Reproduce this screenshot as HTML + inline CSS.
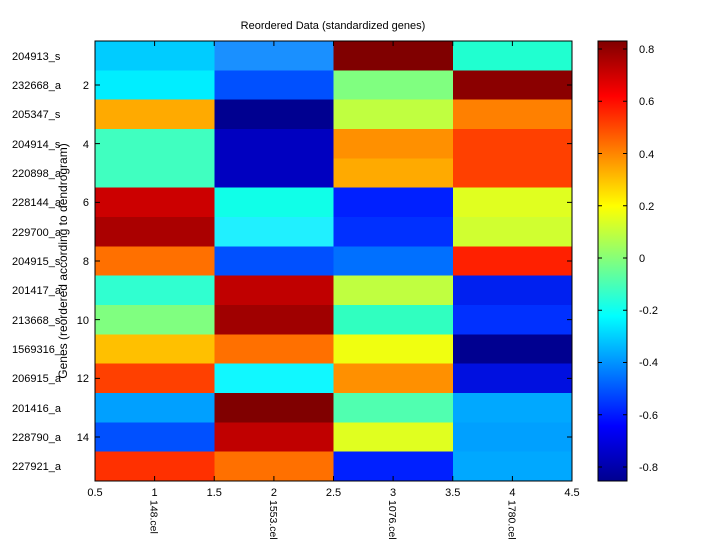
<!DOCTYPE html><html><head><style>body{margin:0;background:#fff}svg{display:block;font-family:"Liberation Sans",sans-serif}</style></head><body>
<svg width="720" height="540" viewBox="0 0 720 540">
<defs><linearGradient id="jet" x1="0" y1="1" x2="0" y2="0">
<stop offset="0" stop-color="#00008f"/><stop offset="0.125" stop-color="#0000ff"/><stop offset="0.375" stop-color="#00ffff"/><stop offset="0.625" stop-color="#ffff00"/><stop offset="0.875" stop-color="#ff0000"/><stop offset="1" stop-color="#800000"/></linearGradient></defs>
<rect width="720" height="540" fill="#fff"/>
<g shape-rendering="crispEdges">
<g transform="translate(0,41)"><rect x="95" width="120" height="30" fill="#00ccff"/><rect x="214.25" width="120" height="30" fill="#1a90ff"/><rect x="333.5" width="120" height="30" fill="#800000"/><rect x="452.75" width="119.25" height="30" fill="#20ffd0"/></g>
<g transform="translate(0,70.33)"><rect x="95" width="120" height="30" fill="#00eeff"/><rect x="214.25" width="120" height="30" fill="#0050ff"/><rect x="333.5" width="120" height="30" fill="#80ff80"/><rect x="452.75" width="119.25" height="30" fill="#8b0000"/></g>
<g transform="translate(0,99.67)"><rect x="95" width="120" height="30" fill="#ffaa00"/><rect x="214.25" width="120" height="30" fill="#000090"/><rect x="333.5" width="120" height="30" fill="#c0ff40"/><rect x="452.75" width="119.25" height="30" fill="#ff8000"/></g>
<g transform="translate(0,129)"><rect x="95" width="120" height="30" fill="#40ffc0"/><rect x="214.25" width="120" height="30" fill="#0000c0"/><rect x="333.5" width="120" height="30" fill="#ff9000"/><rect x="452.75" width="119.25" height="30" fill="#ff4000"/></g>
<g transform="translate(0,158.33)"><rect x="95" width="120" height="30" fill="#40ffc0"/><rect x="214.25" width="120" height="30" fill="#0000c0"/><rect x="333.5" width="120" height="30" fill="#ffaa00"/><rect x="452.75" width="119.25" height="30" fill="#ff4000"/></g>
<g transform="translate(0,187.67)"><rect x="95" width="120" height="30" fill="#cc0000"/><rect x="214.25" width="120" height="30" fill="#10ffe8"/><rect x="333.5" width="120" height="30" fill="#0020ff"/><rect x="452.75" width="119.25" height="30" fill="#e0ff20"/></g>
<g transform="translate(0,217)"><rect x="95" width="120" height="30" fill="#aa0000"/><rect x="214.25" width="120" height="30" fill="#20f0ff"/><rect x="333.5" width="120" height="30" fill="#0030ff"/><rect x="452.75" width="119.25" height="30" fill="#d0ff30"/></g>
<g transform="translate(0,246.33)"><rect x="95" width="120" height="30" fill="#ff7000"/><rect x="214.25" width="120" height="30" fill="#0050ff"/><rect x="333.5" width="120" height="30" fill="#0070ff"/><rect x="452.75" width="119.25" height="30" fill="#ff2000"/></g>
<g transform="translate(0,275.67)"><rect x="95" width="120" height="30" fill="#30ffd0"/><rect x="214.25" width="120" height="30" fill="#c00000"/><rect x="333.5" width="120" height="30" fill="#c0ff40"/><rect x="452.75" width="119.25" height="30" fill="#0020f0"/></g>
<g transform="translate(0,305)"><rect x="95" width="120" height="30" fill="#80ff80"/><rect x="214.25" width="120" height="30" fill="#a00000"/><rect x="333.5" width="120" height="30" fill="#30ffc0"/><rect x="452.75" width="119.25" height="30" fill="#0030ff"/></g>
<g transform="translate(0,334.33)"><rect x="95" width="120" height="30" fill="#ffc000"/><rect x="214.25" width="120" height="30" fill="#ff7000"/><rect x="333.5" width="120" height="30" fill="#f0ff10"/><rect x="452.75" width="119.25" height="30" fill="#000090"/></g>
<g transform="translate(0,363.67)"><rect x="95" width="120" height="30" fill="#ff4000"/><rect x="214.25" width="120" height="30" fill="#10f8ff"/><rect x="333.5" width="120" height="30" fill="#ff9000"/><rect x="452.75" width="119.25" height="30" fill="#0010e0"/></g>
<g transform="translate(0,393)"><rect x="95" width="120" height="30" fill="#00a0ff"/><rect x="214.25" width="120" height="30" fill="#800000"/><rect x="333.5" width="120" height="30" fill="#50ffb0"/><rect x="452.75" width="119.25" height="30" fill="#00a8ff"/></g>
<g transform="translate(0,422.33)"><rect x="95" width="120" height="30" fill="#0050ff"/><rect x="214.25" width="120" height="30" fill="#c00000"/><rect x="333.5" width="120" height="30" fill="#e0ff20"/><rect x="452.75" width="119.25" height="30" fill="#00a0ff"/></g>
<g transform="translate(0,451.67)"><rect x="95" width="120" height="29.33" fill="#ff3000"/><rect x="214.25" width="120" height="29.33" fill="#ff7000"/><rect x="333.5" width="120" height="29.33" fill="#0020ff"/><rect x="452.75" width="119.25" height="29.33" fill="#00a8ff"/></g>
</g>
<g font-size="11">
<text x="12" y="60">204913_s</text><text x="12" y="89">232668_a</text><text x="12" y="118">205347_s</text><text x="12" y="148">204914_s</text><text x="12" y="177">220898_a</text><text x="12" y="206">228144_a</text><text x="12" y="236">229700_a</text><text x="12" y="265">204915_s</text><text x="12" y="294">201417_a</text><text x="12" y="324">213668_s</text><text x="12" y="353">1569316_</text><text x="12" y="382">206915_a</text><text x="12" y="412">201416_a</text><text x="12" y="441">228790_a</text><text x="12" y="470">227921_a</text>
<g text-anchor="end"><text x="89" y="89">2</text><text x="89" y="148">4</text><text x="89" y="206">6</text><text x="89" y="265">8</text><text x="89" y="324">10</text><text x="89" y="382">12</text><text x="89" y="441">14</text></g>
<g text-anchor="middle"><text x="95" y="496">0.5</text><text x="154.6" y="496">1</text><text x="214.25" y="496">1.5</text><text x="273.9" y="496">2</text><text x="333.5" y="496">2.5</text><text x="393.1" y="496">3</text><text x="452.75" y="496">3.5</text><text x="512.4" y="496">4</text><text x="572" y="496">4.5</text></g>
<g font-size="10.5"><text transform="translate(150.6,500) rotate(90)">148.cel</text><text transform="translate(269.9,500) rotate(90)">1553.cel</text><text transform="translate(389.1,500) rotate(90)">1076.cel</text><text transform="translate(508.4,500) rotate(90)">1780.cel</text></g>
<text x="639" y="53">0.8</text><text x="639" y="105">0.6</text><text x="639" y="158">0.4</text><text x="639" y="210">0.2</text><text x="639" y="262">0</text><text x="639" y="314">-0.2</text><text x="639" y="366">-0.4</text><text x="639" y="419">-0.6</text><text x="639" y="471">-0.8</text>
</g>
<g stroke="#000" fill="none">
<path d="M95 85h5M95 143.67h5M95 202.33h5M95 261h5M95 319.67h5M95 378.33h5M95 437h5M567 85h5M567 143.67h5M567 202.33h5M567 261h5M567 319.67h5M567 378.33h5M567 437h5"/>
<path d="M154.6 41v5M214.25 41v5M273.9 41v5M333.5 41v5M393.1 41v5M452.75 41v5M512.4 41v5M154.6 481v-5M214.25 481v-5M273.9 481v-5M333.5 481v-5M393.1 481v-5M452.75 481v-5M512.4 481v-5"/>
<rect x="95" y="41" width="477" height="440"/>
</g>
<rect x="598" y="41" width="29" height="440" fill="url(#jet)" stroke="#000"/>
<path stroke="#000" d="M598 49h4M598 101.25h4M598 153.5h4M598 205.75h4M598 258h4M598 310.25h4M598 362.5h4M598 414.75h4M598 467h4M623 49h4M623 101.25h4M623 153.5h4M623 205.75h4M623 258h4M623 310.25h4M623 362.5h4M623 414.75h4M623 467h4"/>
<text x="333" y="29" font-size="11" text-anchor="middle">Reordered Data (standardized genes)</text>
<text transform="translate(67,261) rotate(-90)" font-size="12" text-anchor="middle">Genes (reordered according to dendrogram)</text>
</svg></body></html>
